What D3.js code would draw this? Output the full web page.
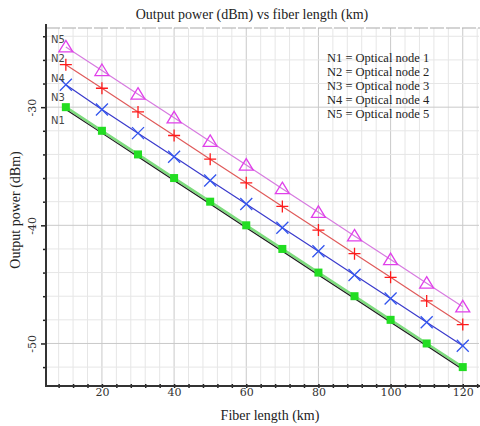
<!DOCTYPE html>
<html>
<head>
<meta charset="utf-8">
<script src="https://cdn.jsdelivr.net/npm/d3@7"></script>
<style>
  html, body { margin: 0; padding: 0; background: #fff; }
  svg { display: block; }
</style>
</head>
<body>
<svg id="chart" width="480" height="426"></svg>
<script>
// Fiber length (km) at each measurement point
const lengths = [10, 20, 30, 40, 50, 60, 70, 80, 90, 100, 110, 120];

// Output power (dBm) per optical node
const n1 = [-30.2, -32.2, -34.2, -36.2, -38.2, -40.2, -42.2, -44.2, -46.2, -48.2, -50.2, -52.2];
const n2 = [-26.4, -28.4, -30.4, -32.4, -34.4, -36.4, -38.4, -40.4, -42.4, -44.4, -46.4, -48.4];
const n3 = [-30, -32, -34, -36, -38, -40, -42, -44, -46, -48, -50, -52];
const n4 = [-28.1, -30.2, -32.2, -34.2, -36.2, -38.2, -40.2, -42.2, -44.2, -46.2, -48.2, -50.2];
const n5 = [-24.9, -26.9, -28.9, -30.9, -32.9, -34.9, -36.9, -38.9, -40.9, -42.9, -44.9, -46.9];

const xMajorTicks = [20, 40, 60, 80, 100, 120];
const yMajorTicks = [-30, -40, -50];
const legendLines = ["N1 = Optical node 1", "N2 = Optical node 2", "N3 = Optical node 3",
                     "N4 = Optical node 4", "N5 = Optical node 5"];

const svg = d3.select("#chart");
const plotL = 46, plotR = 479, plotT = 28, plotB = 386;

const x = d3.scaleLinear().domain([4.5, 124.5]).range([plotL, plotR]);
const y = d3.scaleLinear().domain([-53.6, -23.3]).range([plotB, plotT]);

const serif = "'Liberation Serif', 'Times New Roman', serif";
const tickFont = "'DejaVu Serif', serif";

// Grid: minor lines every 4 km / 2 dB, major lines at labelled ticks
const xMinor = d3.range(8, 125, 4);
const yMinor = d3.range(-52, -23, 2);
const grid = svg.append("g");
grid.selectAll(".vx").data(xMinor).join("line")
  .attr("x1", d => x(d)).attr("x2", d => x(d)).attr("y1", plotT).attr("y2", plotB)
  .attr("stroke", d => xMajorTicks.includes(d) ? "#c9c9c9" : "#e6e6e6").attr("stroke-width", 1);
grid.selectAll(".hy").data(yMinor).join("line")
  .attr("x1", plotL).attr("x2", plotR).attr("y1", d => y(d)).attr("y2", d => y(d))
  .attr("stroke", d => yMajorTicks.includes(d) ? "#c9c9c9" : "#e6e6e6").attr("stroke-width", 1);

// Top frame line
svg.append("line").attr("x1", plotL).attr("x2", 480).attr("y1", plotT).attr("y2", plotT)
  .attr("stroke", "#aaa").attr("stroke-width", 1.2).attr("stroke-dasharray", "14,2");

// Axes
const xAxis = d3.axisBottom(x).tickValues(xMinor).tickSize(3)
  .tickFormat(d => xMajorTicks.includes(d) ? d : "");
const gx = svg.append("g").attr("transform", `translate(0,${plotB})`).call(xAxis);
gx.select(".domain").remove();
gx.selectAll(".tick line").attr("stroke", "#222").attr("y1", -2).attr("y2", 2).attr("stroke-width", 1.5);
gx.selectAll(".tick text").attr("font-family", tickFont).attr("font-size", 11)
  .attr("fill", "#333").attr("dy", "0.2em").attr("y", 8);
svg.append("line").attr("x1", plotL).attr("x2", 480).attr("y1", plotB).attr("y2", plotB)
  .attr("stroke", "#333").attr("stroke-width", 2);

const yAxis = d3.axisLeft(y).tickValues(yMinor).tickSize(4)
  .tickFormat(d => yMajorTicks.includes(d) ? d : "");
const gy = svg.append("g").attr("transform", `translate(${plotL},0)`).call(yAxis);
gy.select(".domain").remove();
gy.selectAll(".tick line").attr("stroke", "#222").attr("stroke-width", 1.5)
  .attr("x2", d => yMajorTicks.includes(d) ? -5 : -3).attr("x1", 1);
gy.selectAll(".tick text").attr("font-family", tickFont).attr("font-size", 11).attr("fill", "#333")
  .attr("x", 0).attr("dy", 0)
  .attr("text-anchor", "middle")
  .attr("transform", "translate(-10,0) rotate(-90)");
svg.append("line").attr("x1", plotL).attr("x2", plotL).attr("y1", plotT - 4).attr("y2", plotB + 1)
  .attr("stroke", "#333").attr("stroke-width", 2);

// Titles
svg.append("text").attr("x", 252).attr("y", 19).attr("text-anchor", "middle")
  .attr("font-family", serif).attr("font-size", 14).attr("fill", "#222")
  .text("Output power (dBm) vs fiber length (km)");
svg.append("text").attr("x", 270).attr("y", 420).attr("text-anchor", "middle")
  .attr("font-family", serif).attr("font-size", 14).attr("fill", "#222")
  .text("Fiber length (km)");
svg.append("text").attr("transform", "translate(20,210) rotate(-90)").attr("text-anchor", "middle")
  .attr("font-family", serif).attr("font-size", 14).attr("fill", "#222")
  .text("Output power (dBm)");

// Series (N1 drawn on top of the wider N3 trace so its dark line stays visible)
const series = [
  { name: "N3", values: n3, line: "#7ddc7d", width: 2.6, marker: "square", color: "#22dd22" },
  { name: "N1", values: n1, line: "#1a1a1a", width: 1.1, marker: "none", color: "#1a1a1a" },
  { name: "N4", values: n4, line: "#3a3acc", width: 1.2, marker: "x", color: "#3355ee" },
  { name: "N2", values: n2, line: "#e05a5a", width: 1.2, marker: "plus", color: "#ff1a1a" },
  { name: "N5", values: n5, line: "#d77ae0", width: 1.2, marker: "triangle", color: "#e040ea" }
];

const lineGen = d3.line().x(d => x(d[0])).y(d => y(d[1]));

function markerPath(type) {
  switch (type) {
    case "triangle": return "M0,-6.5 L7,5 L-7,5 Z";
    case "plus": return "M-6,0 L6,0 M0,-6 L0,6";
    case "x": return "M-6,-6 L6,6 M-6,6 L6,-6";
    default: return null;
  }
}

const markerLayers = [];
series.forEach(s => {
  const pts = lengths.map((l, i) => [l, s.values[i]]);
  svg.append("path").datum(pts).attr("d", lineGen)
    .attr("fill", "none").attr("stroke", s.line).attr("stroke-width", s.width);
  markerLayers.push([s, pts]);
});

markerLayers.forEach(([s, pts]) => {
  const g = svg.append("g");
  if (s.marker === "square") {
    g.selectAll("rect").data(pts).join("rect")
      .attr("x", d => x(d[0]) - 4).attr("y", d => y(d[1]) - 4)
      .attr("width", 8).attr("height", 8).attr("fill", s.color);
  } else if (s.marker !== "none") {
    g.selectAll("path").data(pts).join("path")
      .attr("d", markerPath(s.marker))
      .attr("transform", d => `translate(${x(d[0])},${y(d[1])})`)
      .attr("fill", "none").attr("stroke", s.color).attr("stroke-width", 1.3);
  }
});

// Curve labels at left end
const curveLabels = [["N5", n5[0], -4], ["N2", n2[0], -3], ["N4", n4[0], -3], ["N3", n3[0], -6], ["N1", n1[0], 14]];
svg.selectAll(".clabel").data(curveLabels).join("text")
  .attr("x", 51).attr("y", d => y(d[1]) + d[2])
  .attr("font-family", "'DejaVu Sans', sans-serif").attr("font-size", 10).attr("fill", "#444")
  .text(d => d[0]);

// Legend text
svg.selectAll(".leg").data(legendLines).join("text")
  .attr("x", 327).attr("y", (d, i) => 62 + i * 14)
  .attr("font-family", serif).attr("font-size", 12.5).attr("fill", "#222")
  .text(d => d);
</script>
</body>
</html>
